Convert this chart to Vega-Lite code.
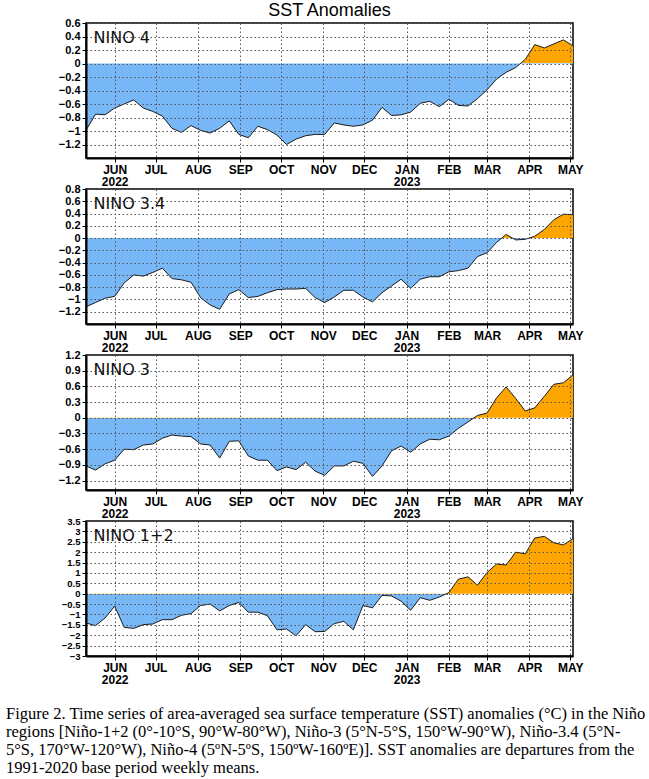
{
  "$schema": "https://vega.github.io/schema/vega-lite/v6.json",
  "background": "white",
  "padding": {"left": 6, "top": 1, "right": 0, "bottom": 0},
  "autosize": {"type": "pad"},
  "datasets": {
    "sst": [
      {"week": "2022-05-11", "n4": -0.99, "n34": -1.12, "n3": -0.92, "n12": -1.41},
      {"week": "2022-05-18", "n4": -0.75, "n34": -1.05, "n3": -1.00, "n12": -1.54},
      {"week": "2022-05-25", "n4": -0.76, "n34": -0.98, "n3": -0.88, "n12": -1.17},
      {"week": "2022-06-01", "n4": -0.66, "n34": -0.95, "n3": -0.81, "n12": -0.60},
      {"week": "2022-06-08", "n4": -0.60, "n34": -0.73, "n3": -0.60, "n12": -1.62},
      {"week": "2022-06-15", "n4": -0.54, "n34": -0.60, "n3": -0.61, "n12": -1.67},
      {"week": "2022-06-22", "n4": -0.66, "n34": -0.62, "n3": -0.52, "n12": -1.49},
      {"week": "2022-06-29", "n4": -0.71, "n34": -0.56, "n3": -0.50, "n12": -1.46},
      {"week": "2022-07-06", "n4": -0.78, "n34": -0.49, "n3": -0.39, "n12": -1.25},
      {"week": "2022-07-13", "n4": -0.96, "n34": -0.66, "n3": -0.33, "n12": -1.25},
      {"week": "2022-07-20", "n4": -1.02, "n34": -0.68, "n3": -0.35, "n12": -1.04},
      {"week": "2022-07-27", "n4": -0.92, "n34": -0.72, "n3": -0.36, "n12": -0.96},
      {"week": "2022-08-03", "n4": -0.99, "n34": -0.97, "n3": -0.50, "n12": -0.57},
      {"week": "2022-08-10", "n4": -1.03, "n34": -1.09, "n3": -0.52, "n12": -0.50},
      {"week": "2022-08-17", "n4": -0.96, "n34": -1.16, "n3": -0.77, "n12": -0.83},
      {"week": "2022-08-24", "n4": -0.85, "n34": -0.91, "n3": -0.45, "n12": -0.57},
      {"week": "2022-08-31", "n4": -1.05, "n34": -0.84, "n3": -0.44, "n12": -0.42},
      {"week": "2022-09-07", "n4": -1.10, "n34": -0.97, "n3": -0.73, "n12": -0.89},
      {"week": "2022-09-14", "n4": -0.93, "n34": -0.95, "n3": -0.81, "n12": -0.89},
      {"week": "2022-09-21", "n4": -0.98, "n34": -0.89, "n3": -0.81, "n12": -1.06},
      {"week": "2022-09-28", "n4": -1.06, "n34": -0.84, "n3": -1.01, "n12": -1.74},
      {"week": "2022-10-05", "n4": -1.20, "n34": -0.83, "n3": -0.94, "n12": -1.70},
      {"week": "2022-10-12", "n4": -1.12, "n34": -0.83, "n3": -0.99, "n12": -2.03},
      {"week": "2022-10-19", "n4": -1.07, "n34": -0.82, "n3": -0.85, "n12": -1.49},
      {"week": "2022-10-26", "n4": -1.05, "n34": -0.97, "n3": -1.02, "n12": -1.83},
      {"week": "2022-11-02", "n4": -1.05, "n34": -1.05, "n3": -1.10, "n12": -1.82},
      {"week": "2022-11-09", "n4": -0.88, "n34": -0.96, "n3": -0.92, "n12": -1.44},
      {"week": "2022-11-16", "n4": -0.91, "n34": -0.85, "n3": -0.92, "n12": -1.33},
      {"week": "2022-11-23", "n4": -0.93, "n34": -0.85, "n3": -0.83, "n12": -1.74},
      {"week": "2022-11-30", "n4": -0.91, "n34": -0.96, "n3": -0.87, "n12": -0.57},
      {"week": "2022-12-07", "n4": -0.84, "n34": -1.04, "n3": -1.12, "n12": -0.68},
      {"week": "2022-12-14", "n4": -0.65, "n34": -0.89, "n3": -0.92, "n12": -0.08},
      {"week": "2022-12-21", "n4": -0.77, "n34": -0.78, "n3": -0.63, "n12": -0.11},
      {"week": "2022-12-28", "n4": -0.76, "n34": -0.67, "n3": -0.54, "n12": -0.36},
      {"week": "2023-01-04", "n4": -0.72, "n34": -0.82, "n3": -0.66, "n12": -0.80},
      {"week": "2023-01-11", "n4": -0.59, "n34": -0.67, "n3": -0.50, "n12": -0.19},
      {"week": "2023-01-18", "n4": -0.56, "n34": -0.63, "n3": -0.41, "n12": -0.32},
      {"week": "2023-01-25", "n4": -0.64, "n34": -0.63, "n3": -0.42, "n12": -0.16},
      {"week": "2023-02-01", "n4": -0.53, "n34": -0.55, "n3": -0.35, "n12": 0.05},
      {"week": "2023-02-08", "n4": -0.62, "n34": -0.53, "n3": -0.20, "n12": 0.70},
      {"week": "2023-02-15", "n4": -0.63, "n34": -0.49, "n3": -0.08, "n12": 0.81},
      {"week": "2023-02-22", "n4": -0.52, "n34": -0.30, "n3": 0.045, "n12": 0.41},
      {"week": "2023-03-01", "n4": -0.39, "n34": -0.24, "n3": 0.09, "n12": 1.02},
      {"week": "2023-03-08", "n4": -0.23, "n34": -0.07, "n3": 0.38, "n12": 1.43},
      {"week": "2023-03-15", "n4": -0.13, "n34": 0.06, "n3": 0.59, "n12": 1.38},
      {"week": "2023-03-22", "n4": -0.06, "n34": -0.03, "n3": 0.37, "n12": 2.00},
      {"week": "2023-03-29", "n4": 0.06, "n34": -0.02, "n3": 0.13, "n12": 1.92},
      {"week": "2023-04-05", "n4": 0.28, "n34": 0.03, "n3": 0.19, "n12": 2.68},
      {"week": "2023-04-12", "n4": 0.23, "n34": 0.14, "n3": 0.41, "n12": 2.76},
      {"week": "2023-04-19", "n4": 0.29, "n34": 0.30, "n3": 0.64, "n12": 2.45},
      {"week": "2023-04-26", "n4": 0.35, "n34": 0.39, "n3": 0.67, "n12": 2.35},
      {"week": "2023-05-03", "n4": 0.26, "n34": 0.38, "n3": 0.82, "n12": 2.65}
    ]
  },
  "data": {"name": "sst"},
  "title": {
    "text": [
      "Figure 2. Time series of area-averaged sea surface temperature (SST) anomalies (°C) in the Niño",
      "regions [Niño-1+2 (0°-10°S, 90°W-80°W), Niño-3 (5°N-5°S, 150°W-90°W), Niño-3.4 (5°N-",
      "5°S, 170°W-120°W), Niño-4 (5ºN-5ºS, 150ºW-160ºE)]. SST anomalies are departures from the",
      "1991-2020 base period weekly means."
    ],
    "orient": "bottom",
    "anchor": "start",
    "frame": "group",
    "font": "Liberation Serif",
    "fontSize": 16.5,
    "fontWeight": "normal",
    "lineHeight": 18,
    "offset": 20,
    "dx": -80,
    "color": "black"
  },
  "spacing": 31,
  "bounds": "flush",
  "vconcat": [
    {
      "width": 487, "height": 135,
      "title": {"text": "SST Anomalies", "font": "Liberation Sans", "fontSize": 18, "fontWeight": "normal", "anchor": "middle", "frame": "group", "offset": -3, "color": "black"},
      "encoding": {
        "x": {"field": "week", "type": "temporal", "title": null,
          "scale": {"type": "utc", "domain": [{"year": 2022, "month": 5, "date": 11, "utc": true}, {"year": 2023, "month": 5, "date": 3, "utc": true}]},
          "axis": {"values": [{"year": 2022, "month": 6, "date": 1, "utc": true}, {"year": 2022, "month": 7, "date": 1, "utc": true}, {"year": 2022, "month": 8, "date": 1, "utc": true}, {"year": 2022, "month": 9, "date": 1, "utc": true}, {"year": 2022, "month": 10, "date": 1, "utc": true}, {"year": 2022, "month": 11, "date": 1, "utc": true}, {"year": 2022, "month": 12, "date": 1, "utc": true}, {"year": 2023, "month": 1, "date": 1, "utc": true}, {"year": 2023, "month": 2, "date": 1, "utc": true}, {"year": 2023, "month": 3, "date": 1, "utc": true}, {"year": 2023, "month": 4, "date": 1, "utc": true}, {"year": 2023, "month": 5, "date": 1, "utc": true}],
            "labelExpr": "[upper(utcFormat(datum.value, '%b')), (utcmonth(datum.value) == 5 || utcmonth(datum.value) == 0) ? utcFormat(datum.value, '%Y') : '']",
            "labelOverlap": false, "labelFlush": false, "labelLineHeight": 12.5, "grid": true, "gridColor": "#555", "gridOpacity": 1, "gridDash": [1.5, 2.5], "gridWidth": 1, "zindex": 1}},
        "y": {"field": "n4", "type": "quantitative",
          "scale": {"domain": [-1.4, 0.6], "nice": false, "zero": false},
          "axis": {"values": [-1.2, -1, -0.8, -0.6, -0.4, -0.2, 0, 0.2, 0.4, 0.6], "format": "~g", "grid": true, "labelOverlap": false, "labelFontSize": 11, "gridColor": "#555", "gridOpacity": 1, "gridDash": [1.5, 2.5], "gridWidth": 1, "zindex": 1,
            "title": "NINO 4", "titleAngle": 0, "titleAlign": "left", "titleBaseline": "alphabetic", "titleX": 7, "titleY": 19.3, "titleFont": "DejaVu Sans", "titleFontSize": 16, "titleFontWeight": "normal", "titleColor": "#111"}}
      },
      "layer": [
        {
          "mark": {"type": "area", "interpolate": "linear", "fill": {"gradient": "linear", "x1": 0, "y1": 0, "x2": 0, "y2": 1, "stops": [{"offset": 0, "color": "#ffa500"}, {"offset": 0.2258, "color": "#ffa500"}, {"offset": 0.2258, "color": "#78b8f6"}, {"offset": 1, "color": "#78b8f6"}]}},
          "encoding": {"y2": {"datum": 0}}
        },
        {"mark": {"type": "line", "color": "#1a1a1a", "strokeWidth": 1, "interpolate": "linear"}}
      ]
    },
    {
      "width": 487, "height": 135,
      "encoding": {
        "x": {"field": "week", "type": "temporal", "title": null,
          "scale": {"type": "utc", "domain": [{"year": 2022, "month": 5, "date": 11, "utc": true}, {"year": 2023, "month": 5, "date": 3, "utc": true}]},
          "axis": {"values": [{"year": 2022, "month": 6, "date": 1, "utc": true}, {"year": 2022, "month": 7, "date": 1, "utc": true}, {"year": 2022, "month": 8, "date": 1, "utc": true}, {"year": 2022, "month": 9, "date": 1, "utc": true}, {"year": 2022, "month": 10, "date": 1, "utc": true}, {"year": 2022, "month": 11, "date": 1, "utc": true}, {"year": 2022, "month": 12, "date": 1, "utc": true}, {"year": 2023, "month": 1, "date": 1, "utc": true}, {"year": 2023, "month": 2, "date": 1, "utc": true}, {"year": 2023, "month": 3, "date": 1, "utc": true}, {"year": 2023, "month": 4, "date": 1, "utc": true}, {"year": 2023, "month": 5, "date": 1, "utc": true}],
            "labelExpr": "[upper(utcFormat(datum.value, '%b')), (utcmonth(datum.value) == 5 || utcmonth(datum.value) == 0) ? utcFormat(datum.value, '%Y') : '']",
            "labelOverlap": false, "labelFlush": false, "labelLineHeight": 12.5, "grid": true, "gridColor": "#555", "gridOpacity": 1, "gridDash": [1.5, 2.5], "gridWidth": 1, "zindex": 1}},
        "y": {"field": "n34", "type": "quantitative",
          "scale": {"domain": [-1.4, 0.8], "nice": false, "zero": false},
          "axis": {"values": [-1.2, -1, -0.8, -0.6, -0.4, -0.2, 0, 0.2, 0.4, 0.6, 0.8], "format": "~g", "grid": true, "labelOverlap": false, "labelFontSize": 11, "gridColor": "#555", "gridOpacity": 1, "gridDash": [1.5, 2.5], "gridWidth": 1, "zindex": 1,
            "title": "NINO 3.4", "titleAngle": 0, "titleAlign": "left", "titleBaseline": "alphabetic", "titleX": 7, "titleY": 19.3, "titleFont": "DejaVu Sans", "titleFontSize": 16, "titleFontWeight": "normal", "titleColor": "#111"}}
      },
      "layer": [
        {
          "mark": {"type": "area", "interpolate": "linear", "fill": {"gradient": "linear", "x1": 0, "y1": 0, "x2": 0, "y2": 1, "stops": [{"offset": 0, "color": "#ffa500"}, {"offset": 0.2516, "color": "#ffa500"}, {"offset": 0.2516, "color": "#78b8f6"}, {"offset": 1, "color": "#78b8f6"}]}},
          "encoding": {"y2": {"datum": 0}}
        },
        {"mark": {"type": "line", "color": "#1a1a1a", "strokeWidth": 1, "interpolate": "linear"}}
      ]
    },
    {
      "width": 487, "height": 135,
      "encoding": {
        "x": {"field": "week", "type": "temporal", "title": null,
          "scale": {"type": "utc", "domain": [{"year": 2022, "month": 5, "date": 11, "utc": true}, {"year": 2023, "month": 5, "date": 3, "utc": true}]},
          "axis": {"values": [{"year": 2022, "month": 6, "date": 1, "utc": true}, {"year": 2022, "month": 7, "date": 1, "utc": true}, {"year": 2022, "month": 8, "date": 1, "utc": true}, {"year": 2022, "month": 9, "date": 1, "utc": true}, {"year": 2022, "month": 10, "date": 1, "utc": true}, {"year": 2022, "month": 11, "date": 1, "utc": true}, {"year": 2022, "month": 12, "date": 1, "utc": true}, {"year": 2023, "month": 1, "date": 1, "utc": true}, {"year": 2023, "month": 2, "date": 1, "utc": true}, {"year": 2023, "month": 3, "date": 1, "utc": true}, {"year": 2023, "month": 4, "date": 1, "utc": true}, {"year": 2023, "month": 5, "date": 1, "utc": true}],
            "labelExpr": "[upper(utcFormat(datum.value, '%b')), (utcmonth(datum.value) == 5 || utcmonth(datum.value) == 0) ? utcFormat(datum.value, '%Y') : '']",
            "labelOverlap": false, "labelFlush": false, "labelLineHeight": 12.5, "grid": true, "gridColor": "#555", "gridOpacity": 1, "gridDash": [1.5, 2.5], "gridWidth": 1, "zindex": 1}},
        "y": {"field": "n3", "type": "quantitative",
          "scale": {"domain": [-1.38, 1.2], "nice": false, "zero": false},
          "axis": {"values": [-1.2, -0.9, -0.6, -0.3, 0, 0.3, 0.6, 0.9, 1.2], "format": "~g", "grid": true, "labelOverlap": false, "labelFontSize": 11, "gridColor": "#555", "gridOpacity": 1, "gridDash": [1.5, 2.5], "gridWidth": 1, "zindex": 1,
            "title": "NINO 3", "titleAngle": 0, "titleAlign": "left", "titleBaseline": "alphabetic", "titleX": 7, "titleY": 19.3, "titleFont": "DejaVu Sans", "titleFontSize": 16, "titleFontWeight": "normal", "titleColor": "#111"}}
      },
      "layer": [
        {
          "mark": {"type": "area", "interpolate": "linear", "fill": {"gradient": "linear", "x1": 0, "y1": 0, "x2": 0, "y2": 1, "stops": [{"offset": 0, "color": "#ffa500"}, {"offset": 0.4227, "color": "#ffa500"}, {"offset": 0.4227, "color": "#78b8f6"}, {"offset": 1, "color": "#78b8f6"}]}},
          "encoding": {"y2": {"datum": 0}}
        },
        {"mark": {"type": "line", "color": "#1a1a1a", "strokeWidth": 1, "interpolate": "linear"}}
      ]
    },
    {
      "width": 487, "height": 135,
      "encoding": {
        "x": {"field": "week", "type": "temporal", "title": null,
          "scale": {"type": "utc", "domain": [{"year": 2022, "month": 5, "date": 11, "utc": true}, {"year": 2023, "month": 5, "date": 3, "utc": true}]},
          "axis": {"values": [{"year": 2022, "month": 6, "date": 1, "utc": true}, {"year": 2022, "month": 7, "date": 1, "utc": true}, {"year": 2022, "month": 8, "date": 1, "utc": true}, {"year": 2022, "month": 9, "date": 1, "utc": true}, {"year": 2022, "month": 10, "date": 1, "utc": true}, {"year": 2022, "month": 11, "date": 1, "utc": true}, {"year": 2022, "month": 12, "date": 1, "utc": true}, {"year": 2023, "month": 1, "date": 1, "utc": true}, {"year": 2023, "month": 2, "date": 1, "utc": true}, {"year": 2023, "month": 3, "date": 1, "utc": true}, {"year": 2023, "month": 4, "date": 1, "utc": true}, {"year": 2023, "month": 5, "date": 1, "utc": true}],
            "labelExpr": "[upper(utcFormat(datum.value, '%b')), (utcmonth(datum.value) == 5 || utcmonth(datum.value) == 0) ? utcFormat(datum.value, '%Y') : '']",
            "labelOverlap": false, "labelFlush": false, "labelLineHeight": 12.5, "grid": true, "gridColor": "#555", "gridOpacity": 1, "gridDash": [1.5, 2.5], "gridWidth": 1, "zindex": 1}},
        "y": {"field": "n12", "type": "quantitative",
          "scale": {"domain": [-3, 3.5], "nice": false, "zero": false},
          "axis": {"values": [-3, -2.5, -2, -1.5, -1, -0.5, 0, 0.5, 1, 1.5, 2, 2.5, 3, 3.5], "format": "~g", "grid": true, "labelOverlap": false, "labelFontSize": 9.5, "gridColor": "#555", "gridOpacity": 1, "gridDash": [1.5, 2.5], "gridWidth": 1, "zindex": 1,
            "title": "NINO 1+2", "titleAngle": 0, "titleAlign": "left", "titleBaseline": "alphabetic", "titleX": 7, "titleY": 19.3, "titleFont": "DejaVu Sans", "titleFontSize": 16, "titleFontWeight": "normal", "titleColor": "#111"}}
      },
      "layer": [
        {
          "mark": {"type": "area", "interpolate": "linear", "fill": {"gradient": "linear", "x1": 0, "y1": 0, "x2": 0, "y2": 1, "stops": [{"offset": 0, "color": "#ffa500"}, {"offset": 0.5762, "color": "#ffa500"}, {"offset": 0.5762, "color": "#78b8f6"}, {"offset": 1, "color": "#78b8f6"}]}},
          "encoding": {"y2": {"datum": 0}}
        },
        {"mark": {"type": "line", "color": "#1a1a1a", "strokeWidth": 1, "interpolate": "linear"}}
      ]
    }
  ],
  "config": {
    "view": {"stroke": "black", "strokeWidth": 1.5},
    "axis": {
      "labelFont": "Liberation Sans", "labelFontWeight": "bold", "labelFontSize": 12, "labelColor": "black",
      "domainColor": "black", "domainWidth": 2, "tickColor": "black", "tickSize": 4, "tickWidth": 1,
      "labelPadding": 2
    }
  }
}
